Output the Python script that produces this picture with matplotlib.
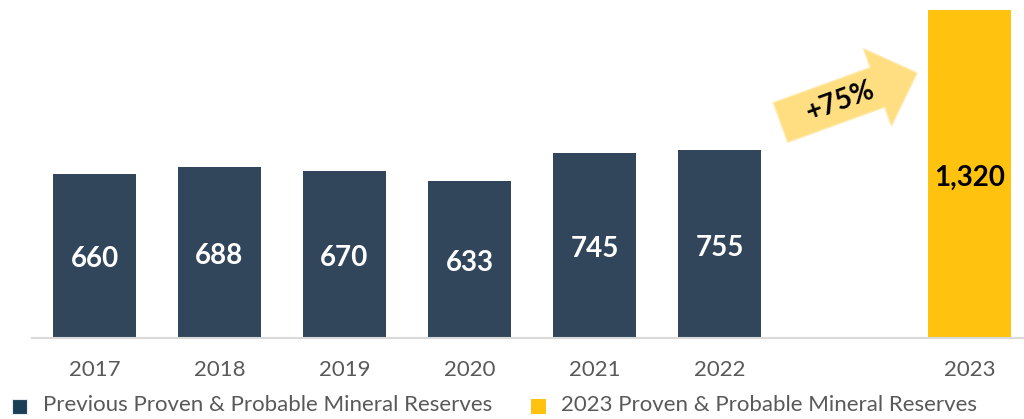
import matplotlib
matplotlib.use("Agg")
import matplotlib.pyplot as plt
from matplotlib.patches import Polygon, Rectangle
import numpy as np

years = ["2017", "2018", "2019", "2020", "2021", "2022", "2023"]
values = [660, 688, 670, 633, 745, 755, 1320]
labels = ["660", "688", "670", "633", "745", "755", "1,320"]
positions = [0, 1, 2, 3, 4, 5, 7]
legend_labels = ["Previous Proven & Probable Mineral Reserves",
                 "2023 Proven & Probable Mineral Reserves"]
growth_label = "+75%"

DARK = "#31465B"
LEG_DARK = "#1B3E57"
YELLOW = "#FFC30F"
ARROW = "#FFDE82"

plt.rcParams['font.family'] = ['Lato', 'DejaVu Sans']

W, H = 1024, 419
fig = plt.figure(figsize=(W / 100, H / 100), dpi=100)
ax = fig.add_axes([32 / W, 81 / H, (W - 32) / W, 338 / H])

colors = [DARK] * 6 + [YELLOW]
bars = ax.bar(positions, values, width=0.664, color=colors)
ax.set_xlim(-0.5, 7.436)
ax.set_ylim(0, 1360)

# pixels per data unit
ppu = 338 / 1360.0
for b, lab, c in zip(bars, labels, colors):
    ax.text(b.get_x() + b.get_width() / 2, b.get_height() / 2 - 11.5 / ppu, lab,
            ha="center", va="baseline", fontsize=20, fontweight="bold",
            color="white" if c == DARK else "black")

for s in ["top", "right", "left"]:
    ax.spines[s].set_visible(False)
ax.spines["bottom"].set_color("#D9D9D9")
ax.spines["bottom"].set_linewidth(1.5)
ax.set_yticks([])
ax.set_xticks(positions)
ax.set_xticklabels(years, fontsize=16, color="#595959")
ax.tick_params(axis="x", length=0, pad=16)


def px(x, y):
    return (x / W, (H - y) / H)


# arrow polygon in pixel coords
tail = np.array([780.5, 122.5])
tip = np.array([917.0, 73.0])
d = tip - tail
L = np.hypot(*d)
u = d / L
n = np.array([u[1], -u[0]])
shaft_w = 42
head_w = 82
head_len = 42
base = tip - u * head_len
pts = [tail + n * shaft_w / 2,
       base + n * shaft_w / 2,
       base + n * head_w / 2,
       tip,
       base - n * head_w / 2,
       base - n * shaft_w / 2,
       tail - n * shaft_w / 2]
poly = Polygon([px(*p) for p in pts], closed=True, transform=fig.transFigure,
               facecolor=ARROW, edgecolor="#FFE9A8", linewidth=1)
fig.patches.append(poly)
fig.text(*px(840, 101), growth_label, rotation=20, ha="center", va="center",
         fontsize=20, fontweight="bold", color="black")

# legend
for (mx, tx), lab, c in zip([(12, 43), (531, 561)], legend_labels, [LEG_DARK, YELLOW]):
    fig.patches.append(Rectangle(px(mx, 414), 15 / W, 15 / H, transform=fig.transFigure,
                                 facecolor=c, edgecolor="#E6EBEF" if c == LEG_DARK else "none",
                                 linewidth=0.8))
    fig.text(*px(tx, 405), lab, ha="left", va="center", fontsize=16, color="#595959")

fig.savefig("out.png", dpi=100)
